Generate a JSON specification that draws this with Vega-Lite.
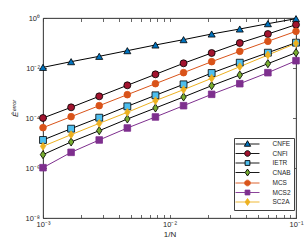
{
  "$schema": "https://vega.github.io/schema/vega-lite/v6.json",
  "width": 253,
  "height": 200,
  "autosize": {"type": "none"},
  "padding": {"left": 43, "top": 18, "right": 9, "bottom": 27},
  "background": "white",
  "view": {"stroke": "#404040", "strokeWidth": 0.8},
  "config": {
    "font": "Liberation Sans",
    "axis": {"labelFont": "Liberation Sans", "titleFont": "Liberation Sans", "labelColor": "#262626", "titleColor": "#262626", "domainColor": "#404040", "tickColor": "#404040", "domainWidth": 0.8, "tickWidth": 0.8, "grid": false, "labelFontSize": 7.5, "titleFontSize": 8, "titleFontWeight": "normal", "labelOverlap": false, "labelFlush": false}
  },
  "data": {"values": [
    {"x": 0.001, "y": 0.0106, "s": "CNFE"},
    {"x": 0.0016681, "y": 0.0179, "s": "CNFE"},
    {"x": 0.0027826, "y": 0.0293, "s": "CNFE"},
    {"x": 0.0046416, "y": 0.0493, "s": "CNFE"},
    {"x": 0.0077426, "y": 0.0832, "s": "CNFE"},
    {"x": 0.012915, "y": 0.136, "s": "CNFE"},
    {"x": 0.021544, "y": 0.229, "s": "CNFE"},
    {"x": 0.035938, "y": 0.363, "s": "CNFE"},
    {"x": 0.059948, "y": 0.593, "s": "CNFE"},
    {"x": 0.1, "y": 0.94, "s": "CNFE"},
    {"x": 0.001, "y": 0.0001, "s": "CNFI"},
    {"x": 0.0016681, "y": 0.000267, "s": "CNFI"},
    {"x": 0.0027826, "y": 0.000735, "s": "CNFI"},
    {"x": 0.0046416, "y": 0.00203, "s": "CNFI"},
    {"x": 0.0077426, "y": 0.00558, "s": "CNFI"},
    {"x": 0.012915, "y": 0.0154, "s": "CNFI"},
    {"x": 0.021544, "y": 0.0398, "s": "CNFI"},
    {"x": 0.035938, "y": 0.1, "s": "CNFI"},
    {"x": 0.059948, "y": 0.229, "s": "CNFI"},
    {"x": 0.1, "y": 0.541, "s": "CNFI"},
    {"x": 0.001, "y": 0.0000132, "s": "IETR"},
    {"x": 0.0016681, "y": 0.0000374, "s": "IETR"},
    {"x": 0.0027826, "y": 0.000103, "s": "IETR"},
    {"x": 0.0046416, "y": 0.000293, "s": "IETR"},
    {"x": 0.0077426, "y": 0.000807, "s": "IETR"},
    {"x": 0.012915, "y": 0.00222, "s": "IETR"},
    {"x": 0.021544, "y": 0.0063, "s": "IETR"},
    {"x": 0.035938, "y": 0.0163, "s": "IETR"},
    {"x": 0.059948, "y": 0.041, "s": "IETR"},
    {"x": 0.1, "y": 0.103, "s": "IETR"},
    {"x": 0.001, "y": 0.00000342, "s": "CNAB"},
    {"x": 0.0016681, "y": 0.000011, "s": "CNAB"},
    {"x": 0.0027826, "y": 0.0000311, "s": "CNAB"},
    {"x": 0.0046416, "y": 0.0000912, "s": "CNAB"},
    {"x": 0.0077426, "y": 0.000251, "s": "CNAB"},
    {"x": 0.012915, "y": 0.000692, "s": "CNAB"},
    {"x": 0.021544, "y": 0.00196, "s": "CNAB"},
    {"x": 0.035938, "y": 0.00525, "s": "CNAB"},
    {"x": 0.059948, "y": 0.0149, "s": "CNAB"},
    {"x": 0.1, "y": 0.041, "s": "CNAB"},
    {"x": 0.001, "y": 0.000041, "s": "MCS"},
    {"x": 0.0016681, "y": 0.000113, "s": "MCS"},
    {"x": 0.0027826, "y": 0.000311, "s": "MCS"},
    {"x": 0.0046416, "y": 0.000857, "s": "MCS"},
    {"x": 0.0077426, "y": 0.00236, "s": "MCS"},
    {"x": 0.012915, "y": 0.0065, "s": "MCS"},
    {"x": 0.021544, "y": 0.0179, "s": "MCS"},
    {"x": 0.035938, "y": 0.0464, "s": "MCS"},
    {"x": 0.059948, "y": 0.117, "s": "MCS"},
    {"x": 0.1, "y": 0.293, "s": "MCS"},
    {"x": 0.001, "y": 0.00000103, "s": "MCS2"},
    {"x": 0.0016681, "y": 0.00000423, "s": "MCS2"},
    {"x": 0.0027826, "y": 0.0000132, "s": "MCS2"},
    {"x": 0.0046416, "y": 0.0000398, "s": "MCS2"},
    {"x": 0.0077426, "y": 0.00011, "s": "MCS2"},
    {"x": 0.012915, "y": 0.000311, "s": "MCS2"},
    {"x": 0.021544, "y": 0.000885, "s": "MCS2"},
    {"x": 0.035938, "y": 0.00236, "s": "MCS2"},
    {"x": 0.059948, "y": 0.0065, "s": "MCS2"},
    {"x": 0.1, "y": 0.0196, "s": "MCS2"},
    {"x": 0.001, "y": 0.00000736, "s": "SC2A"},
    {"x": 0.0016681, "y": 0.0000215, "s": "SC2A"},
    {"x": 0.0027826, "y": 0.0000612, "s": "SC2A"},
    {"x": 0.0046416, "y": 0.000169, "s": "SC2A"},
    {"x": 0.0077426, "y": 0.000493, "s": "SC2A"},
    {"x": 0.012915, "y": 0.00136, "s": "SC2A"},
    {"x": 0.021544, "y": 0.00386, "s": "SC2A"},
    {"x": 0.035938, "y": 0.0113, "s": "SC2A"},
    {"x": 0.059948, "y": 0.0331, "s": "SC2A"},
    {"x": 0.1, "y": 0.097, "s": "SC2A"}
  ]},
  "layer": [
    {
      "mark": {"type": "line", "strokeWidth": 1},
      "encoding": {
        "x": {"field": "x", "type": "quantitative", "scale": {"type": "log", "domain": [0.001, 0.1], "nice": false},
          "axis": {"orient": "bottom", "title": "1/N", "titlePadding": 3,
            "values": [0.001,0.002,0.003,0.004,0.005,0.006,0.007,0.008,0.009,0.01,0.02,0.03,0.04,0.05,0.06,0.07,0.08,0.09,0.1],
            "labelExpr": "datum.value == 0.001 ? '10⁻³' : datum.value == 0.01 ? '10⁻²' : datum.value == 0.1 ? '10⁻¹' : ''",
            "tickSize": -3.5, "labelPadding": 5.5}},
        "y": {"field": "y", "type": "quantitative", "scale": {"type": "log", "domain": [0.00000001, 1], "nice": false},
          "axis": {"orient": "left", "title": "Êᵉʳʳᵒʳ", "titleFontStyle": "italic", "titlePadding": 5, "titleY": 90, "titleAlign": "center",
            "values": [0.00000001, 0.000001, 0.0001, 0.01, 1],
            "labelExpr": "datum.value == 1 ? '10⁰' : datum.value == 0.01 ? '10⁻²' : datum.value == 0.0001 ? '10⁻⁴' : datum.value == 0.000001 ? '10⁻⁶' : '10⁻⁸'",
            "tickSize": -3.5, "labelPadding": 7}},
        "detail": {"field": "s"},
        "stroke": {"field": "s", "type": "nominal", "legend": null,
          "scale": {"domain": ["CNFE","CNFI","IETR","CNAB","MCS","MCS2","SC2A"], "range": ["#000000","#000000","#000000","#000000","#D95319","#7E2F8E","#EDB120"]}}
      }
    },
    {
      "mark": {"type": "point", "filled": true, "opacity": 1, "strokeWidth": 0.8},
      "encoding": {
        "x": {"field": "x", "type": "quantitative", "scale": {"type": "log", "domain": [0.001, 0.1], "nice": false}, "axis": null},
        "y": {"field": "y", "type": "quantitative", "scale": {"type": "log", "domain": [0.00000001, 1], "nice": false}, "axis": null},
        "shape": {"field": "s", "type": "nominal", "legend": null,
          "scale": {"domain": ["CNFE","CNFI","IETR","CNAB","MCS","MCS2","SC2A"], "range": ["triangle-up","circle","square","M0,-1.2L0.8,0L0,1.2L-0.8,0Z","circle","square","M0,-1.2L0.8,0L0,1.2L-0.8,0Z"]}},
        "size": {"field": "s", "type": "nominal", "legend": null,
          "scale": {"domain": ["CNFE","CNFI","IETR","CNAB","MCS","MCS2","SC2A"], "range": [50, 42, 30, 38, 42, 30, 38]}},
        "fill": {"field": "s", "type": "nominal", "legend": null,
          "scale": {"domain": ["CNFE","CNFI","IETR","CNAB","MCS","MCS2","SC2A"], "range": ["#0072BD","#A2142F","#4DBEEE","#77AC30","#D95319","#7E2F8E","#EDB120"]}},
        "stroke": {"field": "s", "type": "nominal", "legend": null,
          "scale": {"domain": ["CNFE","CNFI","IETR","CNAB","MCS","MCS2","SC2A"], "range": ["#000000","#000000","#000000","#000000","#D95319","#7E2F8E","#EDB120"]}}
      }
    },
    {
      "transform": [{"filter": "false"}],
      "mark": {"type": "point", "filled": true, "opacity": 1, "strokeWidth": 0.8},
      "encoding": {
        "x": {"field": "x", "type": "quantitative", "scale": {"type": "log", "domain": [0.001, 0.1], "nice": false},
          "axis": {"orient": "top", "labels": false, "title": null,
            "values": [0.001,0.002,0.003,0.004,0.005,0.006,0.007,0.008,0.009,0.01,0.02,0.03,0.04,0.05,0.06,0.07,0.08,0.09,0.1],
            "tickSize": -3.5}},
        "y": {"field": "y", "type": "quantitative", "scale": {"type": "log", "domain": [0.00000001, 1], "nice": false},
          "axis": {"orient": "right", "labels": false, "title": null,
            "values": [0.00000001, 0.000001, 0.0001, 0.01, 1], "tickSize": -3.5}},
        "shape": {"field": "s", "type": "nominal",
          "scale": {"domain": ["CNFE","CNFI","IETR","CNAB","MCS","MCS2","SC2A"], "range": [
            "M-4,0H-0.55M0.55,0H4M0,-1.1L1.05,0.75L-1.05,0.75Z",
            "M-4,0H-0.95M0.95,0H4M0.95,0A0.95,0.95,0,1,1,-0.95,0A0.95,0.95,0,1,1,0.95,0Z",
            "M-4,0H-0.8M0.8,0H4M-0.8,-0.8H0.8V0.8H-0.8Z",
            "M-4,0H-0.8M0.8,0H4M0,-1.15L0.8,0L0,1.15L-0.8,0Z",
            "M-4,0H-0.95M0.95,0H4M0.95,0A0.95,0.95,0,1,1,-0.95,0A0.95,0.95,0,1,1,0.95,0Z",
            "M-4,0H-0.8M0.8,0H4M-0.8,-0.8H0.8V0.8H-0.8Z",
            "M-4,0H-0.8M0.8,0H4M0,-1.15L0.8,0L0,1.15L-0.8,0Z"]},
          "legend": {"title": null, "orient": "none", "legendX": 191, "legendY": 120, "symbolSize": 36, "symbolStrokeWidth": 0.9, "symbolOpacity": 1, "symbolFillOpacity": 1,
            "labelFont": "Liberation Sans", "labelFontSize": 6.5, "labelColor": "#262626", "labelOffset": 21.5, "symbolOffset": 7.5,
            "labelExpr": "datum.label + '   '",
            "strokeColor": "#404040", "padding": 2.5, "fillColor": "white", "rowPadding": -0.5}},
        "fill": {"field": "s", "type": "nominal",
          "scale": {"domain": ["CNFE","CNFI","IETR","CNAB","MCS","MCS2","SC2A"], "range": ["#0072BD","#A2142F","#4DBEEE","#77AC30","#D95319","#7E2F8E","#EDB120"]}},
        "stroke": {"field": "s", "type": "nominal",
          "scale": {"domain": ["CNFE","CNFI","IETR","CNAB","MCS","MCS2","SC2A"], "range": ["#000000","#000000","#000000","#000000","#D95319","#7E2F8E","#EDB120"]}}
      }
    }
  ],
  "resolve": {"scale": {"shape": "independent", "fill": "independent", "stroke": "independent", "size": "independent"}, "axis": {"x": "independent", "y": "independent"}}
}
